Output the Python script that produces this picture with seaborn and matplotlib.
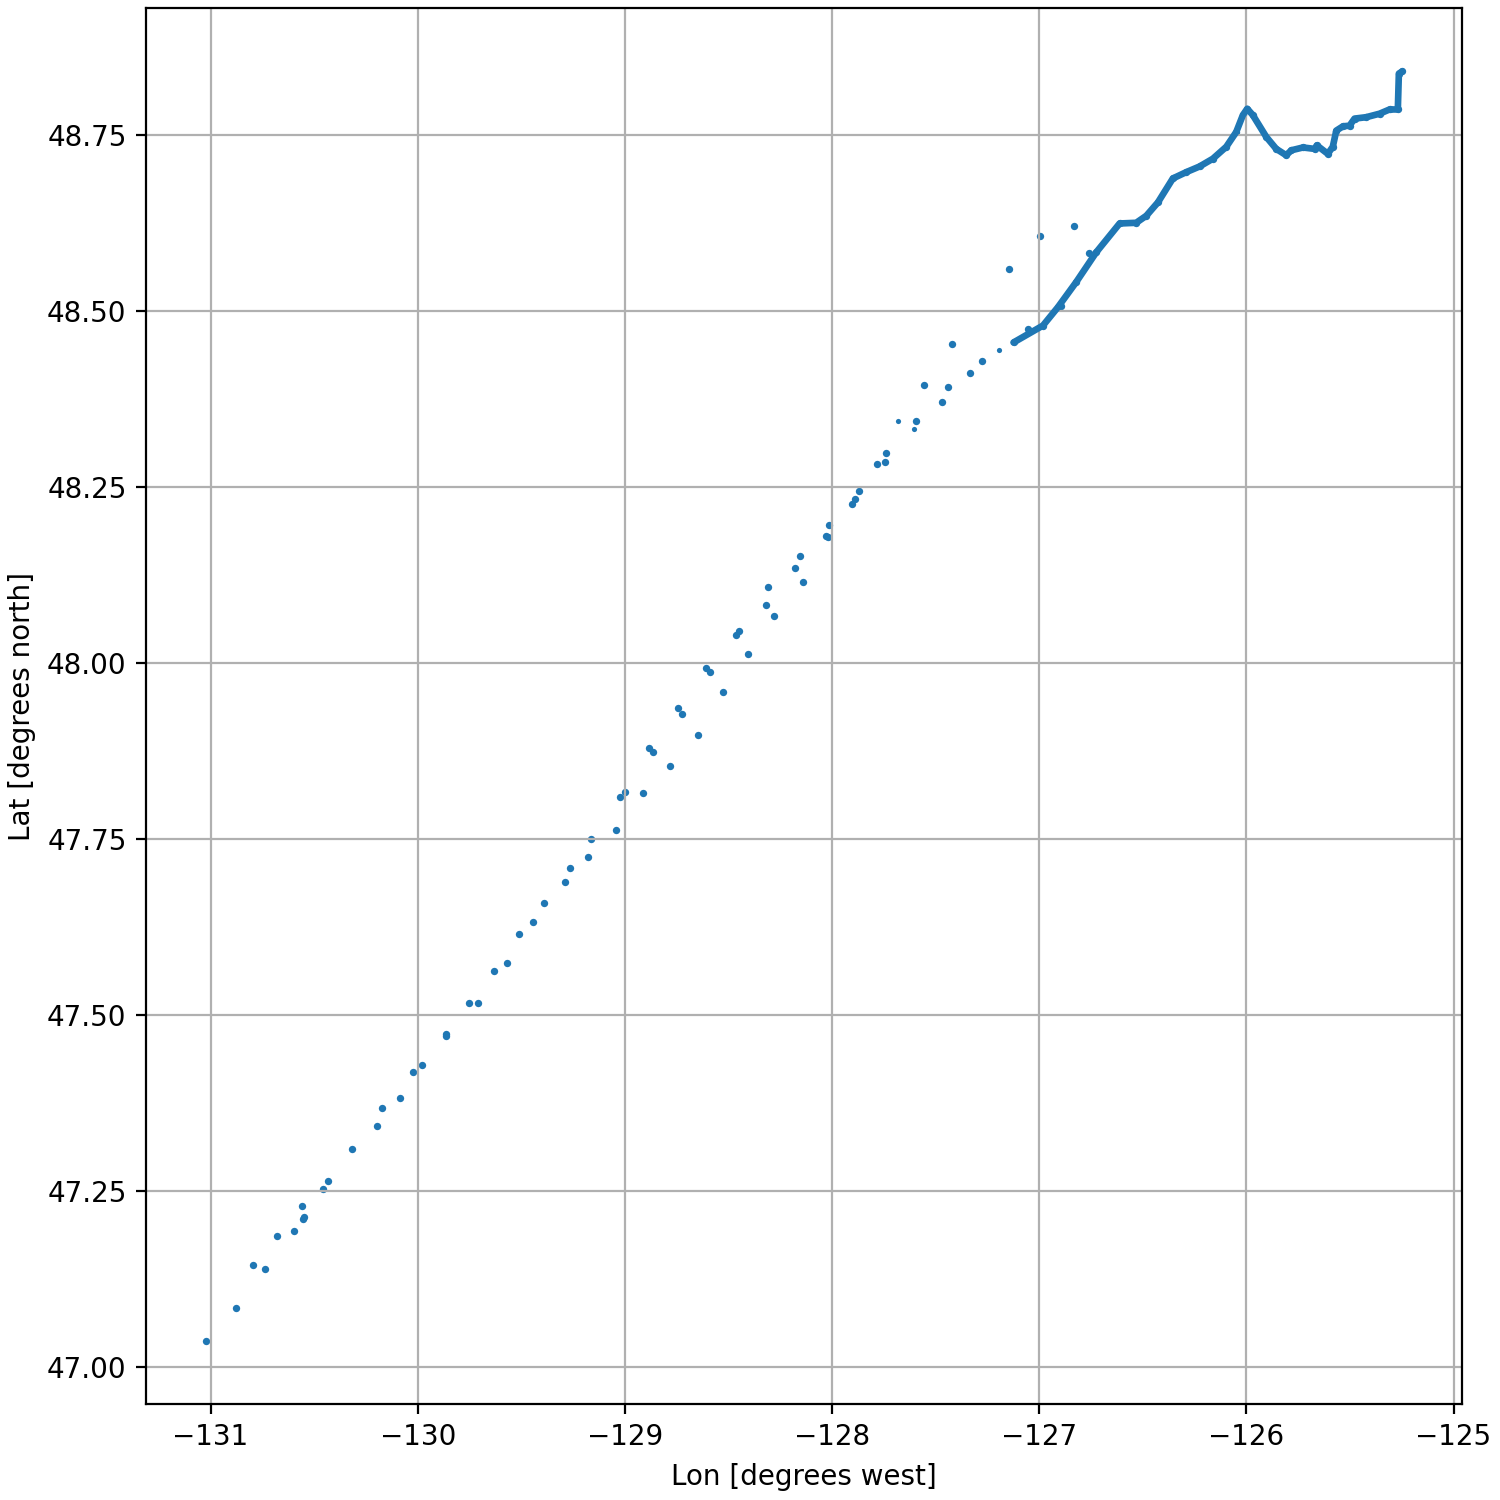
import matplotlib
matplotlib.use("Agg")
import matplotlib.pyplot as plt
import seaborn as sns
import pandas as pd

# scattered fixes (lon, lat)
pts_lon = [-131.023, -130.879, -130.794, -130.736, -130.680, -130.595, -130.561, -130.548,
           -130.554, -130.458, -130.435, -130.318, -130.199, -130.171, -130.088, -130.022,
           -129.980, -129.866, -129.866, -129.751, -129.711, -129.631, -129.571, -129.513,
           -129.446, -129.389, -129.291, -129.267, -129.177, -129.162, -129.042, -129.022,
           -128.998, -128.911, -128.886, -128.862, -128.781, -128.744, -128.725, -128.646,
           -128.607, -128.588, -128.527, -128.462, -128.448, -128.406, -128.321, -128.308,
           -128.282, -128.181, -128.157, -128.142, -128.031, -128.021, -128.013, -127.903,
           -127.887, -127.872, -127.784, -127.743, -127.740, -127.594, -127.555, -127.468,
           -127.441, -127.420, -127.335, -127.275, -127.145, -127.056, -126.997, -126.833,
           -126.759, -126.897]
pts_lat = [47.037, 47.083, 47.144, 47.138, 47.185, 47.192, 47.228, 47.213,
           47.209, 47.252, 47.263, 47.309, 47.342, 47.367, 47.382, 47.418,
           47.428, 47.472, 47.469, 47.517, 47.517, 47.562, 47.573, 47.615,
           47.631, 47.658, 47.688, 47.709, 47.724, 47.749, 47.763, 47.809,
           47.816, 47.815, 47.879, 47.873, 47.853, 47.935, 47.927, 47.898,
           47.993, 47.987, 47.959, 48.039, 48.045, 48.012, 48.082, 48.107,
           48.067, 48.134, 48.152, 48.114, 48.180, 48.178, 48.196, 48.225,
           48.233, 48.244, 48.282, 48.285, 48.298, 48.344, 48.394, 48.370,
           48.392, 48.453, 48.411, 48.428, 48.560, 48.474, 48.606, 48.620,
           48.582, 48.507]

# fainter / smaller fixes
small_lon = [-127.682, -127.605, -127.195]
small_lat = [48.344, 48.332, 48.444]

# dense continuous track
track_lon = [-127.124, -126.982, -126.910, -126.821, -126.725, -126.612, -126.532, -126.483,
             -126.427, -126.355, -126.290, -126.226, -126.162, -126.097, -126.049, -126.017,
             -125.996, -125.969, -125.904, -125.856, -125.808, -125.783, -125.727, -125.671,
             -125.660, -125.607, -125.583, -125.566, -125.534, -125.502, -125.478, -125.422,
             -125.357, -125.309, -125.269, -125.264, -125.248]
track_lat = [48.455, 48.479, 48.505, 48.541, 48.583, 48.624, 48.625, 48.635,
             48.654, 48.688, 48.697, 48.705, 48.716, 48.733, 48.754, 48.778,
             48.787, 48.778, 48.747, 48.730, 48.721, 48.728, 48.732, 48.730,
             48.735, 48.723, 48.733, 48.756, 48.762, 48.763, 48.773, 48.775,
             48.780, 48.786, 48.786, 48.837, 48.840]

plt.rcParams["font.size"] = 10
plt.rcParams["font.family"] = ["DejaVu Sans"]

fig, ax = plt.subplots(figsize=(7.5, 7.5), dpi=200)
fig.subplots_adjust(left=146 / 1500, right=1462 / 1500, top=1 - 8 / 1500, bottom=1 - 1404 / 1500)

color = "#1f77b4"
df_pts = pd.DataFrame({"lon": pts_lon, "lat": pts_lat})
df_small = pd.DataFrame({"lon": small_lon, "lat": small_lat})
df_track = pd.DataFrame({"lon": track_lon, "lat": track_lat})

sns.lineplot(data=df_track, x="lon", y="lat", sort=False, estimator=None, ax=ax,
             color=color, lw=2.4, solid_capstyle="round", solid_joinstyle="round")
sns.scatterplot(data=df_track, x="lon", y="lat", ax=ax, color=color, s=7, linewidth=0)
sns.scatterplot(data=df_pts, x="lon", y="lat", ax=ax, color=color, s=7, linewidth=0)
sns.scatterplot(data=df_small, x="lon", y="lat", ax=ax, color=color, s=3.5, linewidth=0)

ax.grid(True, color="#b0b0b0", linewidth=0.8)
ax.set_xlabel("Lon [degrees west]")
ax.set_ylabel("Lat [degrees north]")
ax.set_yticks([47.0, 47.25, 47.5, 47.75, 48.0, 48.25, 48.5, 48.75])
ax.set_xticks([-131, -130, -129, -128, -127, -126, -125])

fig.savefig("out.png", dpi=200)
